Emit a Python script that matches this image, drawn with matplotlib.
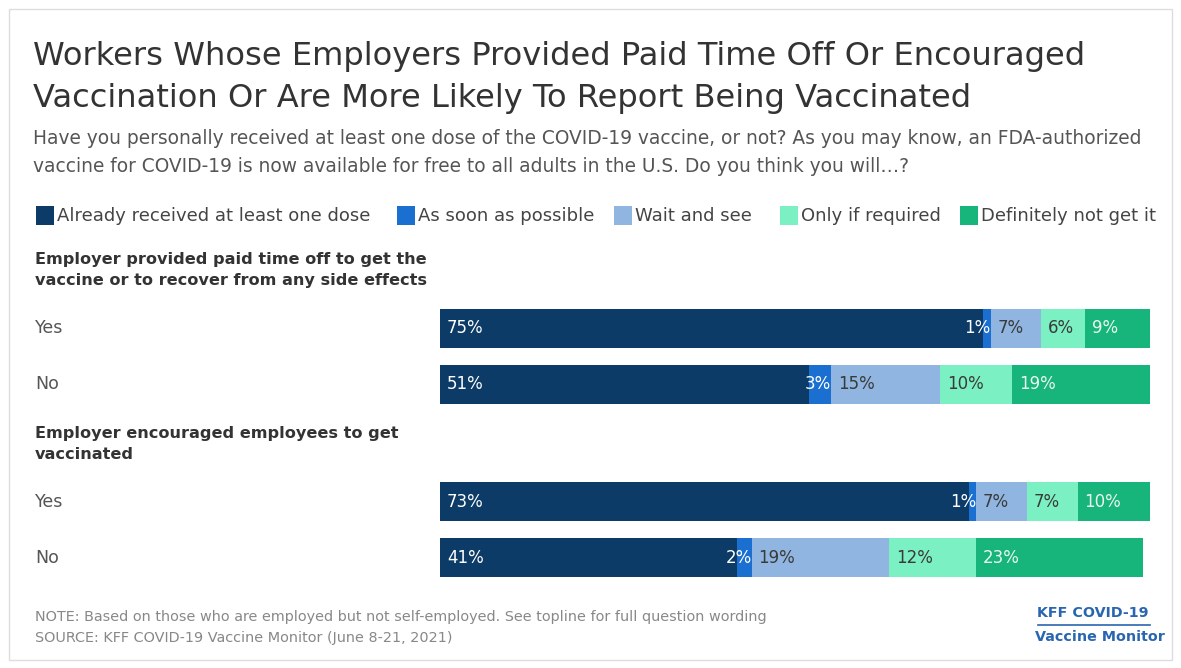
import matplotlib.pyplot as plt
from matplotlib.patches import Rectangle
from matplotlib.lines import Line2D

plt.rcParams['font.family'] = ['DejaVu Sans']

# Data
responses = ["Already received at least one dose", "As soon as possible",
             "Wait and see", "Only if required", "Definitely not get it"]
colors = ["#0b3b66", "#1a6fd0", "#8fb5e0", "#7af0c3", "#17b47b"]
label_colors = ["#ffffff", "#ffffff", "#3a3a3a", "#3a3a3a", "#e8f8f0"]

groups = ["Employer provided paid time off to get the\nvaccine or to recover from any side effects",
          "Employer encouraged employees to get\nvaccinated"]
row_labels = ["Yes", "No", "Yes", "No"]
values = [
    [75, 1, 7, 6, 9],
    [51, 3, 15, 10, 19],
    [73, 1, 7, 7, 10],
    [41, 2, 19, 12, 23],
]

W, H = 1181, 668
fig = plt.figure(figsize=(W / 100, H / 100), dpi=100)
fig.patch.set_facecolor("white")


def fy(y):
    return 1 - y / H


def fx(x):
    return x / W


# light frame
fig.add_artist(Rectangle((fx(9), fy(660)), fx(1172) - fx(9), fy(9) - fy(660),
                         transform=fig.transFigure, fill=False, edgecolor="#dddddd", lw=1))

# Title & subtitle
fig.text(fx(33), fy(56), "Workers Whose Employers Provided Paid Time Off Or Encouraged",
         fontsize=23.1, color="#333333", va="center")
fig.text(fx(33), fy(99), "Vaccination Or Are More Likely To Report Being Vaccinated",
         fontsize=23.1, color="#333333", va="center")
fig.text(fx(33), fy(139), "Have you personally received at least one dose of the COVID-19 vaccine, or not? As you may know, an FDA-authorized",
         fontsize=13.4, color="#555555", va="center")
fig.text(fx(33), fy(166), "vaccine for COVID-19 is now available for free to all adults in the U.S. Do you think you will\u2026?",
         fontsize=13.4, color="#555555", va="center")

# Legend
leg_x = [36, 397, 614, 780, 960]
for x, name, c in zip(leg_x, responses, colors):
    fig.add_artist(Rectangle((fx(x), fy(225)), fx(18), 19 / H, transform=fig.transFigure,
                             facecolor=c, edgecolor="none"))
    fig.text(fx(x + 21), fy(216), name, fontsize=13, color="#444444", va="center")

# Group headings
fig.text(fx(35), fy(270), groups[0], fontsize=11.6, fontweight="bold", color="#333333",
         va="center", linespacing=1.55)
fig.text(fx(35), fy(444), groups[1], fontsize=11.6, fontweight="bold", color="#333333",
         va="center", linespacing=1.55)

# Bars
x0, x1 = 440, 1150
ax = fig.add_axes([fx(x0), fy(590), fx(x1) - fx(x0), fy(300) - fy(590)])
ax.set_xlim(0, 98)
positions = [0, 1, 3.09, 4.09]
ax.set_ylim(4.09 + (590 - 557.5) / 56, 0 - (328.5 - 300) / 56)
ax.axis("off")

for pos, vals, lab in zip(positions, values, row_labels):
    left = 0
    for v, c, lc in zip(vals, colors, label_colors):
        ax.barh(pos, v, left=left, height=0.71, color=c, edgecolor="none")
        seg_w = v * (x1 - x0) / 98
        txt = f"{v}%"
        if seg_w < 24:
            ax.annotate(txt, (left + v, pos), xytext=(0, 0), textcoords="offset points",
                        ha="right", va="center", fontsize=12, color=lc)
        else:
            ax.annotate(txt, (left, pos), xytext=(5, 0), textcoords="offset points",
                        ha="left", va="center", fontsize=12, color=lc)
        left += v
    ax.annotate(lab, (0, pos), xycoords=("figure fraction", "data"),
                xytext=(fx(35), pos), textcoords=("figure fraction", "data"),
                ha="left", va="center", fontsize=12.5, color="#555555")

# Notes
fig.text(fx(35), fy(617), "NOTE: Based on those who are employed but not self-employed. See topline for full question wording",
         fontsize=10.4, color="#888888", va="center")
fig.text(fx(35), fy(638), "SOURCE: KFF COVID-19 Vaccine Monitor (June 8-21, 2021)",
         fontsize=10.4, color="#888888", va="center")

# Logo
fig.text(fx(1093), fy(613), "KFF COVID-19", fontsize=10.3, fontweight="bold", color="#2a66b0",
         ha="center", va="center")
fig.add_artist(Line2D([fx(1038), fx(1150)], [fy(625), fy(625)], transform=fig.transFigure,
                      color="#2a66b0", lw=1.2))
fig.text(fx(1100), fy(637), "Vaccine Monitor", fontsize=10.3, fontweight="bold", color="#2a66b0",
         ha="center", va="center")

fig.savefig("out.png", dpi=100)
